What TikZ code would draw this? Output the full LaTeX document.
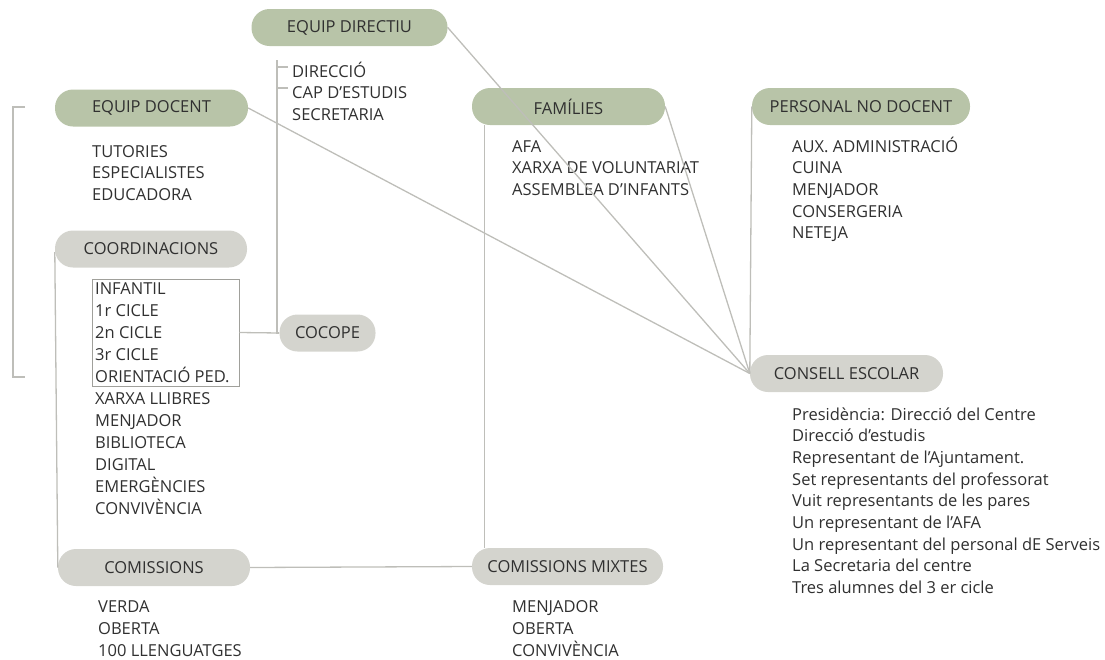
\documentclass[tikz,border=0pt]{standalone}
\usepackage{fontspec}
\setmainfont{Open Sans}
\definecolor{pillgreen}{RGB}{184,196,168}
\definecolor{pillgray}{RGB}{212,212,206}
\definecolor{linegray}{RGB}{190,190,185}
\definecolor{boxgray}{RGB}{160,160,155}
\definecolor{txt}{RGB}{48,48,48}
\tikzset{
  pill/.style={rounded corners=18pt, minimum height=37pt, inner sep=0pt, text=txt, font=\fontsize{16.5}{19}\selectfont},
  greenpill/.style={pill, fill=pillgreen},
  graypill/.style={pill, fill=pillgray},
  item/.style={anchor=base west, inner sep=0pt, text=txt, font=\fontsize{16.5}{19}\selectfont},
  link/.style={draw=linegray, line width=1.3pt}
}
\begin{document}
\begin{tikzpicture}[x=1pt,y=-1pt]
\useasboundingbox (0,0) rectangle (1105,659);
\node [greenpill, minimum width=196pt] (directiu) at (349.5,27.5) {EQUIP DIRECTIU};
\node [greenpill, minimum width=193pt] (docent) at (151.5,108) {EQUIP DOCENT};
\node [greenpill, minimum width=193pt] (families) at (568.5,106.5) {FAMÍLIES};
\node [greenpill, minimum width=218pt] (personal) at (861,106.5) {PERSONAL NO DOCENT};
\node [graypill, minimum width=192pt] (coord) at (151,249) {COORDINACIONS};
\node [graypill, minimum width=96pt] (cocope) at (327.5,333) {COCOPE};
\node [graypill, minimum width=193pt] (consell) at (846.5,373.5) {CONSELL ESCOLAR};
\node [graypill, minimum width=192pt] (comissions) at (154,567.5) {COMISSIONS};
\node [graypill, minimum width=191pt] (mixtes) at (567.5,566.5) {COMISSIONS MIXTES};
\node [draw=boxgray, line width=0.8pt, minimum width=147pt, minimum height=107pt, inner sep=0pt] (cicles) at (165.5,332.5) {};
\foreach \t [count=\i from 0] in {DIRECCIÓ, CAP D’ESTUDIS, SECRETARIA}
  \node [item] (dir\i) at (292,{77+21.5*\i}) {\t};
\foreach \t [count=\i from 0] in {TUTORIES, ESPECIALISTES, EDUCADORA}
  \node [item] (doc\i) at (92,{157+21.5*\i}) {\t};
\foreach \t [count=\i from 0] in {AFA, XARXA DE VOLUNTARIAT, ASSEMBLEA D’INFANTS}
  \node [item] (fam\i) at (512,{152+21.5*\i}) {\t};
\foreach \t [count=\i from 0] in {AUX. ADMINISTRACIÓ, CUINA, MENJADOR, CONSERGERIA, NETEJA}
  \node [item] (pers\i) at (792,{152+21.7*\i}) {\t};
\foreach \t [count=\i from 0] in {INFANTIL, 1r CICLE, 2n CICLE, 3r CICLE, ORIENTACIÓ PED., XARXA LLIBRES, MENJADOR, BIBLIOTECA, DIGITAL, EMERGÈNCIES, CONVIVÈNCIA}
  \node [item] (coord\i) at (95,{294+22*\i}) {\t};
\foreach \t [count=\i from 0] in {Presidència: Direcció del Centre, Direcció d’estudis, Representant de l’Ajuntament., Set representants del professorat, Vuit representants de les pares, Un representant de l’AFA, Un representant del personal dE Serveis, La Secretaria del centre, Tres alumnes del 3 er cicle}
  \node [item] (cons\i) at (792,{420+21.7*\i}) {\t};
\foreach \t [count=\i from 0] in {VERDA, OBERTA, 100 LLENGUATGES}
  \node [item] (com\i) at (98,{612+22*\i}) {\t};
\foreach \t [count=\i from 0] in {MENJADOR, OBERTA, CONVIVÈNCIA}
  \node [item] (mix\i) at (512,{612+22*\i}) {\t};
\coordinate (spine) at (277,60);
\draw [link] (spine) |- (cocope.west);
\draw [link] (277,67) -- (288,67);
\draw [link] (277,88) -- (288,88);
\draw [link] (cicles.east) -- (cocope.west);
\draw [link] (25,107) -- (13,107) -- (13,377) -- (25,377);
\draw [link] ([yshift=-3pt]coord.west) -- (comissions.west);
\draw [link] (comissions.east) -- (mixtes.west);
\draw [link] ([xshift=13pt]families.south west) -- ([xshift=13pt]mixtes.north west);
\draw [link] (directiu.east) -- (consell.west);
\draw [link] (docent.east) -- (consell.west);
\draw [link] (families.east) -- (consell.west);
\draw [link] (personal.west) -- (consell.west);
\end{tikzpicture}
\end{document}
